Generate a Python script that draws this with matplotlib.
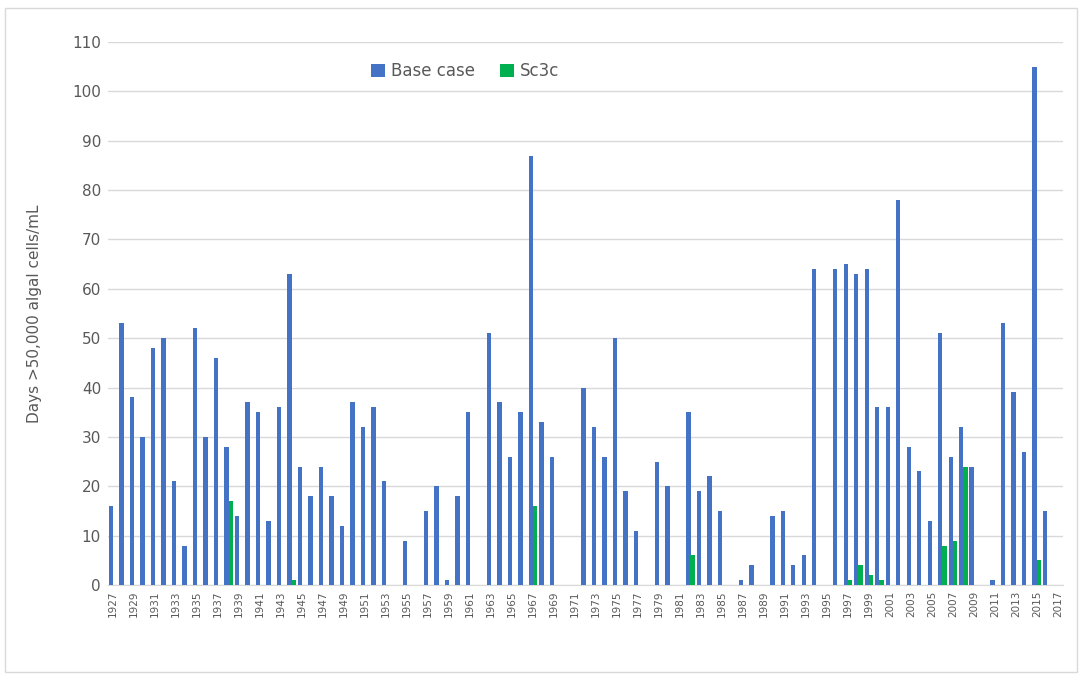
import matplotlib
matplotlib.use("Agg")
import matplotlib.pyplot as plt
import numpy as np
from matplotlib.patches import Rectangle

years = list(range(1927, 2018))
base_case = [16, 53, 38, 30, 48, 50, 21, 8, 52, 30,
             46, 28, 14, 37, 35, 13, 36, 63, 24, 18,
             24, 18, 12, 37, 32, 36, 21, 0, 9, 0,
             15, 20, 1, 18, 35, 0, 51, 37, 26, 35,
             87, 33, 26, 0, 0, 40, 32, 26, 50, 19,
             11, 0, 25, 20, 0, 35, 19, 22, 15, 0,
             1, 4, 0, 14, 15, 4, 6, 64, 0, 64,
             65, 63, 64, 36, 36, 78, 28, 23, 13, 51,
             26, 32, 24, 0, 1, 53, 39, 27, 105, 15,
             0]
sc3c = {1938: 17, 1944: 1, 1967: 16, 1982: 6, 1997: 1, 1998: 4,
        1999: 2, 2000: 1, 2006: 8, 2007: 9, 2008: 24, 2015: 5}
sc3c_vals = [sc3c.get(y, 0) for y in years]

blue = '#4472C4'
green = '#00B050'
grey = '#595959'

fig = plt.figure(figsize=(10.82, 6.74), dpi=100)
fig.patches.append(Rectangle((5 / 1082, 1 - 672 / 674), 1072 / 1082, 664 / 674,
                             transform=fig.transFigure, fill=False,
                             edgecolor='#d9d9d9', linewidth=1))
ax = fig.add_axes([108 / 1082, 1 - 585 / 674, 955 / 1082, 543 / 674])

x = np.array(years)
w = 0.42
ax.bar(x - 0.2, base_case, width=w, color=blue, label='Base case', zorder=3)
ax.bar(x + 0.2, sc3c_vals, width=w, color=green, label='Sc3c', zorder=3)

ax.set_xlim(1926.5, 2017.5)
ax.set_ylim(0, 110)
ax.set_yticks(range(0, 111, 10))
ax.set_xticks(years[::2])
ax.set_xticklabels([str(y) for y in years[::2]], rotation=90, fontsize=7.5, color=grey)
ax.tick_params(axis='y', labelsize=11, colors=grey, length=0, pad=5)
ax.tick_params(axis='x', length=0, pad=4)
ax.grid(axis='y', color='#d9d9d9', linewidth=1, zorder=0)
for s in ['top', 'right', 'left']:
    ax.spines[s].set_visible(False)
ax.spines['bottom'].set_color('#d9d9d9')
ax.set_ylabel('Days >50,000 algal cells/mL', fontsize=11, color=grey, labelpad=22)

ax.legend(loc='upper left', bbox_to_anchor=(0.26, 0.99), ncol=2, frameon=False,
          fontsize=12, handlelength=0.8, handleheight=0.8, handletextpad=0.4,
          columnspacing=1.5, labelcolor=grey)

fig.savefig('out.png', dpi=100)
